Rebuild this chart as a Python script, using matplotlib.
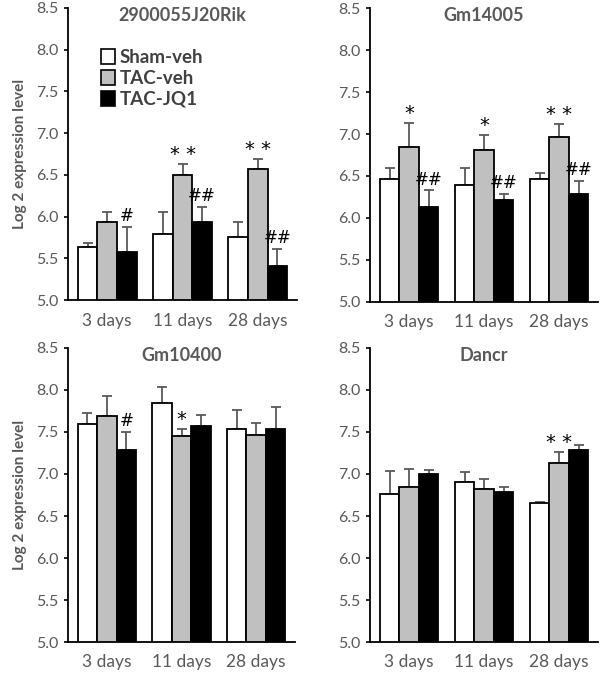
import numpy as np
import matplotlib
matplotlib.use('Agg')
import matplotlib.pyplot as plt
from matplotlib.patches import Patch

plt.rcParams['font.family'] = ['Lato', 'DejaVu Sans']

DAYS = ['3 days', '11 days', '28 days']
GROUPS = ['Sham-veh', 'TAC-veh', 'TAC-JQ1']
COLORS = ['white', '#c0c0c0', 'black']
GRAY_TEXT = '#595959'

# values per gene: rows = groups (Sham, TAC-veh, TAC-JQ1), cols = days
rik_mean = [[5.64, 5.79, 5.75], [5.94, 6.50, 6.57], [5.57, 5.93, 5.41]]
rik_err = [[0.04, 0.26, 0.19], [0.11, 0.13, 0.12], [0.31, 0.19, 0.20]]
rik_marks = [['', '', ''], ['', '* *', '* *'], ['#', '##', '##']]

gm14005_mean = [[6.47, 6.39, 6.46], [6.85, 6.81, 6.96], [6.13, 6.21, 6.28]]
gm14005_err = [[0.13, 0.20, 0.08], [0.28, 0.18, 0.16], [0.20, 0.08, 0.16]]
gm14005_marks = [['', '', ''], ['*', '*', '* *'], ['##', '##', '##']]

gm10400_mean = [[7.60, 7.85, 7.53], [7.69, 7.45, 7.47], [7.28, 7.57, 7.53]]
gm10400_err = [[0.13, 0.18, 0.23], [0.24, 0.09, 0.14], [0.22, 0.13, 0.27]]
gm10400_marks = [['', '', ''], ['', '*', ''], ['#', '', '']]

dancr_mean = [[6.76, 6.91, 6.65], [6.85, 6.82, 7.13], [7.00, 6.78, 7.29]]
dancr_err = [[0.28, 0.11, 0.02], [0.21, 0.12, 0.13], [0.05, 0.07, 0.05]]
dancr_marks = [['', '', ''], ['', '', '* *'], ['', '', '']]

panels = [
    ('2900055J20Rik', rik_mean, rik_err, rik_marks),
    ('Gm14005', gm14005_mean, gm14005_err, gm14005_marks),
    ('Gm10400', gm10400_mean, gm10400_err, gm10400_marks),
    ('Dancr', dancr_mean, dancr_err, dancr_marks),
]

fig = plt.figure(figsize=(6, 6.74), dpi=100)
W, H = 600, 674
rects = [(68, 8, 297, 300), (370, 8, 598, 302), (68, 348, 295, 642), (370, 348, 598, 642)]
bw = 0.26
x = np.arange(len(DAYS))

for i, (title, means, errs, marks) in enumerate(panels):
    l, t, r, b = rects[i]
    ax = fig.add_axes([l / W, 1 - b / H, (r - l) / W, (b - t) / H])
    for g in range(3):
        xs = x + (g - 1) * bw
        ax.bar(xs, means[g], bw, color=COLORS[g], edgecolor='black', linewidth=1.3, zorder=2)
        ax.errorbar(xs, means[g], yerr=[np.zeros(3), errs[g]], fmt='none',
                    ecolor='#595959', elinewidth=1.3, capsize=3.5, capthick=1.3, zorder=1)
        for k in range(3):
            if marks[g][k]:
                top = means[g][k] + errs[g][k]
                star = '*' in marks[g][k]
                ax.text(xs[k], top + (0.0 if star else 0.02), marks[g][k], ha='center', va='bottom',
                        fontsize=14 if star else 12, color='black',
                        family='DejaVu Sans')
    ax.set_ylim(5.0, 8.5)
    ax.set_xlim(-0.52, 2.52)
    ax.set_yticks(np.arange(5.0, 8.51, 0.5))
    ax.set_yticklabels([f'{v:.1f}' for v in np.arange(5.0, 8.51, 0.5)])
    ax.set_xticks(x)
    ax.set_xticklabels(DAYS)
    ax.tick_params(axis='y', length=3, width=1.2, colors='black', labelcolor=GRAY_TEXT, labelsize=11.5, pad=4)
    ax.tick_params(axis='x', length=0, labelcolor=GRAY_TEXT, labelsize=12.5, pad=9)
    for s in ['top', 'right']:
        ax.spines[s].set_visible(False)
    for s in ['left', 'bottom']:
        ax.spines[s].set_linewidth(1.3)
    ax.set_title(title, fontsize=13, fontweight='bold', color=GRAY_TEXT, y=0.975, va='top')
    if i % 2 == 0:
        ax.set_ylabel('Log 2 expression level', fontsize=11, fontweight='bold', color=GRAY_TEXT, labelpad=6)
    if i == 0:
        handles = [Patch(facecolor=c, edgecolor='black', linewidth=1.2) for c in COLORS]
        leg = ax.legend(handles, GROUPS, loc='upper left', bbox_to_anchor=(0.11, 0.885),
                        frameon=False, handlelength=0.75, handleheight=0.85,
                        handletextpad=0.25, labelspacing=0.2, borderaxespad=0,
                        prop={'weight': 'bold', 'size': 13.5})
        for txt in leg.get_texts():
            txt.set_color('#404040')

fig.savefig('out.png', dpi=100)
